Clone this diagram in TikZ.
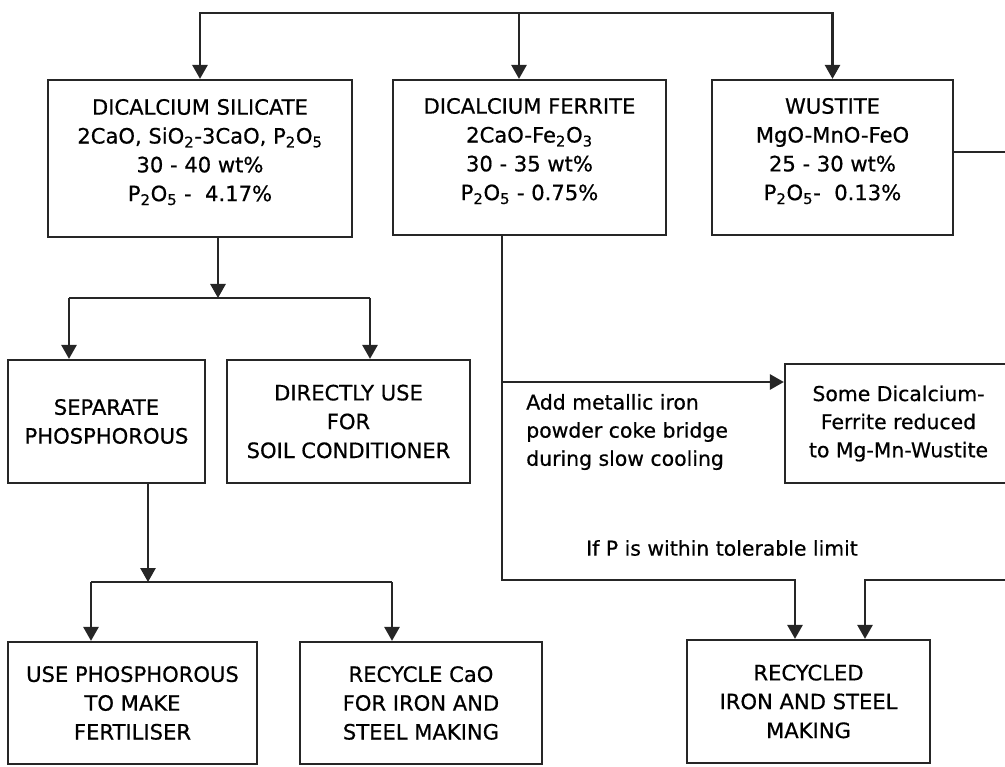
\documentclass[tikz,border=0pt]{standalone}
\usepackage{fontspec}
\setmainfont{DejaVu Sans}[UprightFeatures={FakeBold=0.6}]
\usetikzlibrary{positioning,arrows.meta}

\begin{document}
\begin{tikzpicture}[x=0.025cm, y=-0.025cm,
    procbox/.style={draw, line width=1.6pt, color=black!85, text=black, align=center, inner sep=0pt, font=\fontsize{15}{20.5}\selectfont},
    flow/.style={-{Triangle[length=3.5mm, width=3.8mm]}, line width=1.6pt, color=black!85},
    link/.style={line width=1.6pt, color=black!85},
    note/.style={font=\fontsize{14.5}{20}\selectfont, inner sep=0pt},
]
\useasboundingbox (0,0) rectangle (1005,767);
\clip (0,0) rectangle (1005,767);

% slag phases
\node[procbox, minimum width=7.6cm, minimum height=3.925cm] (silicate) at (200,158.5) {DICALCIUM SILICATE\\2CaO, SiO\textsubscript{2}-3CaO, P\textsubscript{2}O\textsubscript{5}\\30 - 40 wt\%\\P\textsubscript{2}O\textsubscript{5} -\ \ 4.17\%\\[-0.3cm]};
\node[procbox, minimum width=6.825cm, minimum height=3.875cm] (ferrite) at (529.5,157.5) {DICALCIUM FERRITE\\2CaO-Fe\textsubscript{2}O\textsubscript{3}\\30 - 35 wt\%\\P\textsubscript{2}O\textsubscript{5} - 0.75\%\\[-0.3cm]};
\node[procbox, minimum width=6.025cm, minimum height=3.875cm] (wustite) at (832.5,157.5) {WUSTITE\\MgO-MnO-FeO\\25 - 30 wt\%\\P\textsubscript{2}O\textsubscript{5}-\ \ 0.13\%\\[-0.3cm]};

% uses
\node[procbox, minimum width=4.925cm, minimum height=3.075cm] (separate) at (106.5,421.5) {SEPARATE\\PHOSPHOROUS};
\node[procbox, minimum width=6.075cm, minimum height=3.075cm] (soil) at (348.5,421.5) {DIRECTLY USE\\FOR\\SOIL CONDITIONER};
\node[procbox, note, minimum width=5.675cm, minimum height=2.975cm] (some) at (898.5,423.5) {Some Dicalcium-\\Ferrite reduced\\to Mg-Mn-Wustite};
\node[procbox, minimum width=6.225cm, minimum height=3.05cm] (fertiliser) at (132.5,703) {USE PHOSPHOROUS\\TO MAKE\\FERTILISER};
\node[procbox, minimum width=6.05cm, minimum height=3.05cm] (recycao) at (421,703) {RECYCLE CaO\\FOR IRON AND\\STEEL MAKING};
\node[procbox, minimum width=6.075cm, minimum height=3.075cm] (recycled) at (808.5,701.5) {RECYCLED\\IRON AND STEEL\\MAKING};

\node[note, align=left, anchor=west] (ironadd) at (526,432) {Add metallic iron\\powder coke bridge\\during slow cooling};
\node[note] (tolerable) at (722,548) {If P is within tolerable limit};

% top feed
\coordinate (topbar) at (519,13);
\draw[flow] (topbar) -| (silicate.north);
\draw[flow] (topbar) -| (wustite.north);
\draw[flow] (topbar) -- (topbar |- ferrite.north);

% silicate branch
\coordinate (splitsil) at (218,298);
\coordinate (sepin) at (69,298);
\coordinate (soilin) at (370,298);
\draw[flow] (silicate.south -| splitsil) -- (splitsil);
\draw[link] (sepin) -- (soilin);
\draw[flow] (sepin) -- (sepin |- separate.north);
\draw[flow] (soilin) -- (soilin |- soil.north);

% separate branch
\coordinate (splitsep) at (148,582);
\coordinate (fertin) at (91,582);
\coordinate (caoin) at (392,582);
\draw[flow] (separate.south -| splitsep) -- (splitsep);
\draw[link] (fertin) -- (caoin);
\draw[flow] (fertin) -- (fertin |- fertiliser.north);
\draw[flow] (caoin) -- (caoin |- recycao.north);

% ferrite branch
\coordinate (ferout) at (502,382);
\coordinate (recin) at (795,580);
\draw[flow] (ferrite.south -| ferout) |- (recin) -- (recin |- recycled.north);
\draw[flow] (ferout) -- (ferout -| some.west);

% wustite and return
\coordinate (wusout) at (1030,152);
\coordinate (retout) at (1030,580);
\coordinate (recin2) at (865,580);
\draw[link] (wustite.east |- wusout) -- (wusout);
\draw[flow] (retout) -| (recin2 |- recycled.north);
\end{tikzpicture}
\end{document}
